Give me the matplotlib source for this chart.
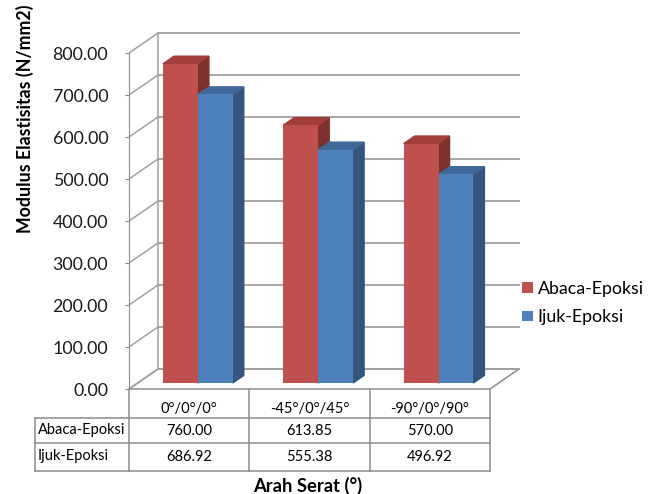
import matplotlib
matplotlib.use("Agg")
import matplotlib.pyplot as plt
import numpy as np

plt.rcParams['font.family'] = ['Lato', 'DejaVu Sans']

categories = ['0°/0°/0°', '-45°/0°/45°', '-90°/0°/90°']
series_names = ['Abaca-Epoksi', 'Ijuk-Epoksi']
abaca = [760.00, 613.85, 570.00]
ijuk = [686.92, 555.38, 496.92]
yticks = [0, 100, 200, 300, 400, 500, 600, 700, 800]

front_cols = ['#C0504D', '#4F81BD']
top_cols = ['#A33E3B', '#3F6899']
side_cols = ['#7D302D', '#34547E']
grid_col = '#A0A0A0'
line_col = '#8C8C8C'

W, H = 655, 494
fig = plt.figure(figsize=(W / 100, H / 100), dpi=100)


def px_box(x0, y0, x1, y1):
    # pixel box (top-left origin) -> figure fraction rect
    return [x0 / W, 1 - y1 / H, (x1 - x0) / W, (y1 - y0) / H]


# main plot area: x in category units, y in value units
ppx = (490 - 129) / 3.0
ppy = (389 - 53) / 800.0
ax = fig.add_axes(px_box(129, 28, 522, 389))
ax.set_xlim(0, (522 - 129) / ppx)
ax.set_ylim(0, (389 - 28) / ppy)

dx = 29 / ppx          # depth of the box
dy = 20 / ppy
ncat = len(categories)

# floor
ax.fill([0, ncat, ncat + dx, dx], [0, 0, dy, dy], color='white',
        edgecolor=line_col, lw=1.1, zorder=1, clip_on=False)
# back wall gridlines + side wall lines
for v in yticks:
    ax.plot([dx, ncat + dx], [v + dy, v + dy], color=grid_col, lw=1.3, zorder=1)
    ax.plot([0, dx], [v, v + dy], color=grid_col, lw=1.1, zorder=1)
ax.plot([dx, dx], [dy, yticks[-1] + dy], color=grid_col, lw=1.1, zorder=1)

# bars
f0 = 0.3 * dx, 0.3 * dy      # front face shift
bd = 0.38 * dx, 0.38 * dy    # bar depth
bw = 0.29
offsets = [0.21, 0.5]
for i in range(ncat):
    for s, vals in enumerate([abaca, ijuk]):
        x0 = i + offsets[s] + f0[0]
        y0 = f0[1]
        y1 = vals[i] + f0[1]
        x1 = x0 + bw
        ax.fill([x1, x1 + bd[0], x1 + bd[0], x1], [y0, y0 + bd[1], y1 + bd[1], y1],
                color=side_cols[s], zorder=3 + i * 3 + s)
        ax.fill([x0, x1, x1 + bd[0], x0 + bd[0]], [y1, y1, y1 + bd[1], y1 + bd[1]],
                color=top_cols[s], zorder=3 + i * 3 + s)
        ax.bar(x0, vals[i], width=bw, bottom=y0, align='edge', color=front_cols[s],
               zorder=3 + i * 3 + s, label=series_names[s] if i == 0 else None)

for sp in ['top', 'right', 'bottom']:
    ax.spines[sp].set_visible(False)
ax.spines['left'].set_bounds(0, yticks[-1])
ax.spines['left'].set_color(line_col)
ax.set_xticks([])
ax.set_yticks(yticks)
ax.set_yticklabels(['%.2f' % v for v in yticks])
ax.tick_params(axis='y', length=3, color=line_col, pad=12, labelsize=12.8,
               labelcolor='#1A1A1A')
ax.patch.set_alpha(0)

fig.text(25 / W, 1 - 119 / H, 'Modulus Elastisitas (N/mm2)', rotation=90,
         ha='center', va='center', fontsize=12.8, fontweight='bold')

# data table
tab = fig.add_axes(px_box(35, 389, 490, 471))
lx = (35 - 129) / ppx
tab.set_xlim(lx, ncat)
tab.set_ylim(82, 0)
tab.axis('off')
rows = [0, 29, 54, 82]
for x in range(ncat + 1):
    tab.plot([x, x], [0, 82], color=line_col, lw=1.1, clip_on=False)
tab.plot([lx, lx], [rows[1], rows[3]], color=line_col, lw=1.1, clip_on=False)
for r in rows[1:]:
    tab.plot([lx, ncat], [r, r], color=line_col, lw=1.1, clip_on=False)
fs = 10.5
for i, c in enumerate(categories):
    tab.text(i + 0.5, 19.5, c, ha='center', va='center', fontsize=fs)
    tab.text(i + 0.5, 42, '%.2f' % abaca[i], ha='center', va='center', fontsize=fs)
    tab.text(i + 0.5, 68, '%.2f' % ijuk[i], ha='center', va='center', fontsize=fs)
tab.text(lx + 3 / ppx, 41, series_names[0], ha='left', va='center', fontsize=fs)
tab.text(lx + 3 / ppx, 67, series_names[1], ha='left', va='center', fontsize=fs)

fig.text(308 / W, 1 - 486 / H, 'Arah Serat (°)', ha='center', va='center',
         fontsize=13.2, fontweight='bold')

fig.legend(loc='center left', bbox_to_anchor=(522 / W, 1 - 303 / H), frameon=False,
           fontsize=12.8, handlelength=0.6, handleheight=0.5, handletextpad=0.28,
           labelspacing=0.7, borderpad=0, borderaxespad=0)

fig.savefig('out.png', dpi=100)
